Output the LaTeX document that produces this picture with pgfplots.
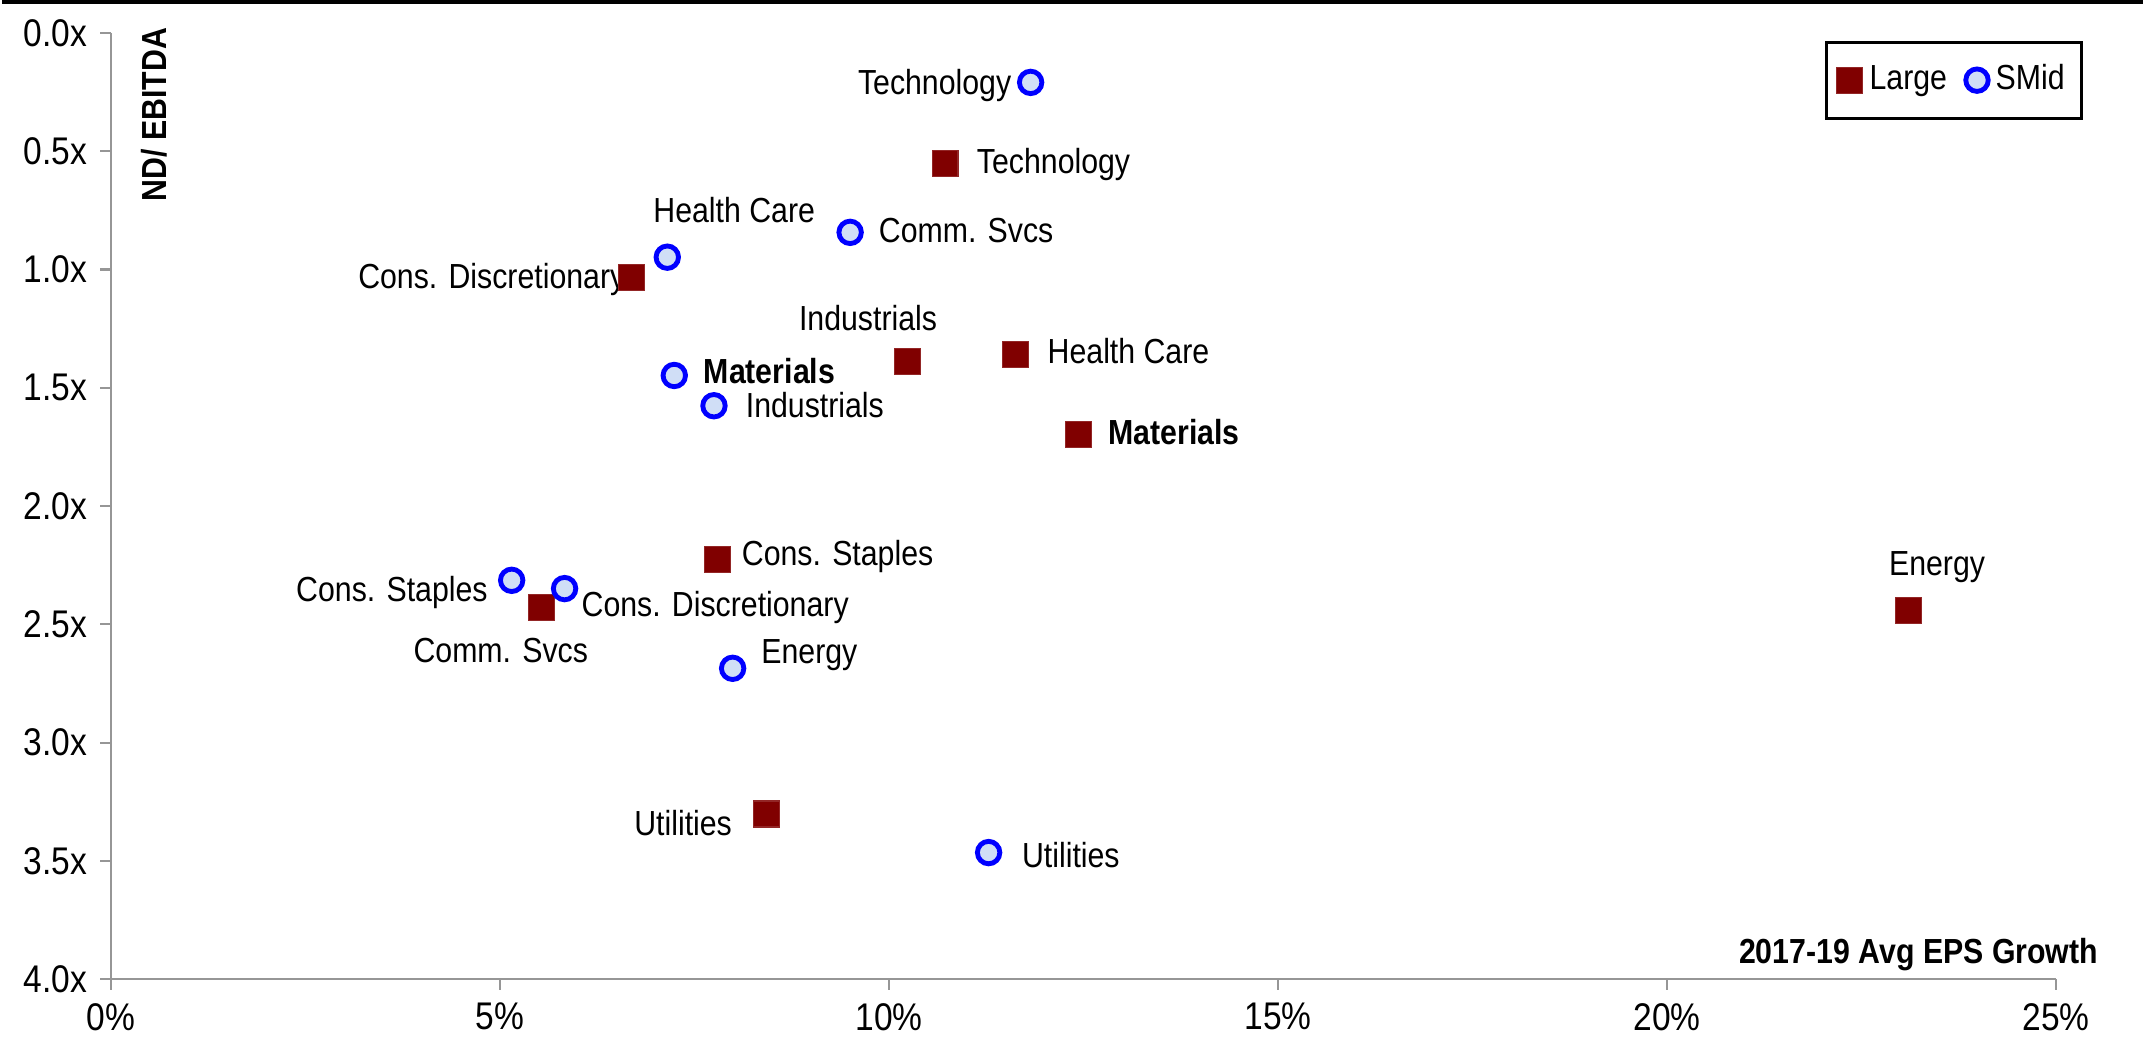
\documentclass[border=0pt]{standalone}
\usepackage{fontspec}
\setmainfont{Liberation Sans}[FakeStretch=0.87]
\usepackage{pgfplots}
\pgfplotsset{compat=1.18}
\usepackage{pgfplotstable}

\definecolor{lgred}{RGB}{128,0,0}
\definecolor{smblue}{RGB}{0,0,255}
\definecolor{smfill}{RGB}{208,222,246}
\definecolor{axgray}{RGB}{150,150,150}

% Large caps: EPS growth (%), ND/EBITDA (x)
\pgfplotstableread{
x y
10.72 0.552
6.69 1.035
10.24 1.390
11.63 1.360
12.44 1.698
7.80 2.227
5.53 2.430
23.10 2.442
8.42 3.302
}\tblLarge

% SMid caps
\pgfplotstableread{
x y
11.82 0.209
9.50 0.843
7.15 0.948
7.24 1.448
7.75 1.576
5.15 2.314
5.83 2.349
7.99 2.686
11.28 3.465
}\tblSMid

\newcommand{\lblfont}{\fontsize{9.3}{11}\selectfont}
\newcommand{\tickfont}{\fontsize{10.3}{12}\selectfont}

\begin{document}
\begin{tikzpicture}[lbl/.style={font=\lblfont, inner sep=0pt, text height=6.7pt, text depth=1.9pt}]
\begin{axis}[
    scale only axis,
    width=519.7pt, height=252.8pt,
    xmin=0, xmax=25, ymin=0, ymax=4,
    y dir=reverse,
    clip=false,
    axis x line*=bottom, axis y line*=left,
    axis line style={axgray, line width=0.55pt},
    tick style={axgray, line width=0.55pt},
    tick align=outside, major tick length=2.9pt,
    xtick={0,5,...,25}, ytick={0,0.5,...,4},
    xticklabel={\pgfmathprintnumber{\tick}\%},
    yticklabel={\pgfmathprintnumber[fixed,fixed zerofill,precision=1]{\tick}x},
    /pgf/number format/assume math mode=true,
    ticklabel style={font=\tickfont},
    legend columns=2,
    legend style={at={(1,1)}, anchor=north east, xshift=7.2pt, yshift=-2.1pt,
        draw=black, line width=0.8pt, font=\lblfont,
        inner xsep=2.5pt, inner ysep=4pt,
        /tikz/every even column/.append style={column sep=3pt}},
]
\addplot[only marks, mark=square*, mark size=3.47pt,
    mark options={draw=lgred!85, fill=lgred, line width=0.3pt}] table {\tblLarge};
\addlegendentry{Large}
\addplot[only marks, mark=*, mark size=3pt,
    mark options={draw=smblue, fill=smfill, line width=1.3pt}] table {\tblSMid};
\addlegendentry{SMid}

% labels, Large
\node[lbl, anchor=west] at (axis cs:11.12,0.558) {Technology};
\node[lbl, anchor=east] at (axis cs:6.62,1.041) {Cons. Discretionary};
\node[lbl, anchor=center] at (axis cs:9.73,1.22) {Industrials};
\node[lbl, anchor=west] at (axis cs:12.03,1.360) {Health Care};
\node[lbl, anchor=west, font=\lblfont\bfseries] at (axis cs:12.81,1.703) {Materials};
\node[lbl, anchor=west] at (axis cs:8.10,2.215) {Cons. Staples};
\node[lbl, anchor=center] at (axis cs:5.01,2.622) {Comm. Svcs};
\node[lbl, anchor=center] at (axis cs:23.47,2.256) {Energy};
\node[lbl, anchor=east] at (axis cs:7.99,3.355) {Utilities};
% labels, SMid
\node[lbl, anchor=east] at (axis cs:11.58,0.221) {Technology};
\node[lbl, anchor=west] at (axis cs:9.86,0.849) {Comm. Svcs};
\node[lbl, anchor=center] at (axis cs:8.01,0.762) {Health Care};
\node[lbl, anchor=west, font=\lblfont\bfseries] at (axis cs:7.61,1.442) {Materials};
\node[lbl, anchor=west] at (axis cs:8.15,1.587) {Industrials};
\node[lbl, anchor=east] at (axis cs:4.85,2.366) {Cons. Staples};
\node[lbl, anchor=west] at (axis cs:6.04,2.430) {Cons. Discretionary};
\node[lbl, anchor=west] at (axis cs:8.35,2.628) {Energy};
\node[lbl, anchor=west] at (axis cs:11.70,3.488) {Utilities};

% axis titles
\node[font=\lblfont\bfseries, rotate=90, anchor=east, inner sep=0pt] at (axis cs:0.55,-0.025) {ND/ EBITDA};
\node[font=\lblfont\bfseries, anchor=base east, inner sep=0pt] at (axis cs:25.55,3.932) {2017-19 Avg EPS Growth};
\end{axis}
\path ([xshift=-29.1pt,yshift=-19.5pt]current axis.south west) rectangle ([xshift=23.2pt,yshift=8.8pt]current axis.north east);
\draw[line width=1.1pt] ([xshift=-29.1pt,yshift=8.25pt]current axis.north west) -- ([xshift=23.2pt,yshift=8.25pt]current axis.north east);
\end{tikzpicture}
\end{document}
